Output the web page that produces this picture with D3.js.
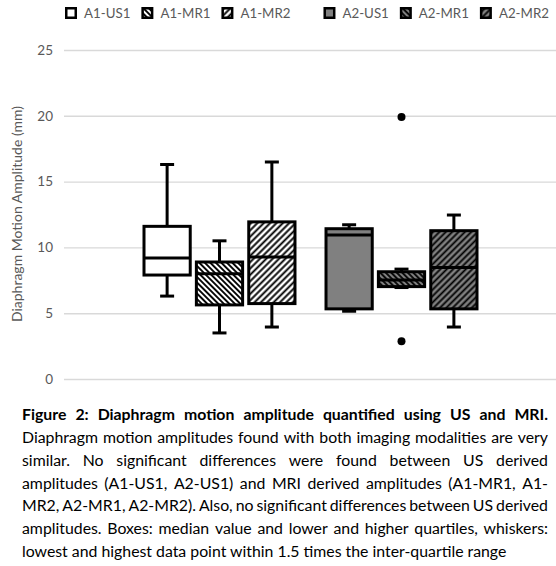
<!DOCTYPE html>
<html><head><meta charset="utf-8">
<script src="https://cdn.jsdelivr.net/npm/d3@7"></script>
<style>body{margin:0;background:#fff}svg{display:block}</style>
</head><body>
<svg id="c" width="556" height="566"></svg>
<script>
// ---------- data ----------
const series = ["A1-US1", "A1-MR1", "A1-MR2", "A2-US1", "A2-MR1", "A2-MR2"];
const groupOf = ["A1", "A1", "A1", "A2", "A2", "A2"];
const whiskerLow  = [6.3, 3.5, 3.95, 5.15, 6.95, 3.95];
const quartile1   = [7.9, 5.63, 5.73, 5.33, 7.02, 5.33];
const median      = [9.19, 8.0, 9.27, 10.94, 7.52, 8.48];
const quartile3   = [11.6, 8.89, 11.94, 11.42, 8.15, 11.27];
const whiskerHigh = [16.3, 10.5, 16.49, 11.72, 8.35, 12.46];
const outliers    = [[], [], [], [], [19.9, 2.87], []];
const yTicks = [0, 5, 10, 15, 20, 25];
const yTitle = "Diaphragm Motion Amplitude (mm)";
const captionLines = [
  "Figure 2: Diaphragm motion amplitude quantified using US and MRI.",
  "Diaphragm motion amplitudes found with both imaging modalities are very",
  "similar. No significant differences were found between US derived",
  "amplitudes (A1-US1, A2-US1) and MRI derived amplitudes (A1-MR1, A1-",
  "MR2, A2-MR1, A2-MR2). Also, no significant differences between US derived",
  "amplitudes. Boxes: median value and lower and higher quartiles, whiskers:",
  "lowest and highest data point within 1.5 times the inter-quartile range"
];

// ---------- setup ----------
const svg = d3.select("#c");
const FONT = "Lato, 'Open Sans', 'Noto Sans', sans-serif";
const GRAY_TXT = "#595959";
const plot = {left: 64, right: 557, top: 50, bottom: 379};

const defs = svg.append("defs");
function hatch(id, bg, angle, spacing, lw) {
  const p = defs.append("pattern").attr("id", id)
    .attr("patternUnits", "userSpaceOnUse")
    .attr("width", spacing).attr("height", spacing)
    .attr("patternTransform", `rotate(${angle})`);
  p.append("rect").attr("width", spacing).attr("height", spacing).attr("fill", bg);
  p.append("line").attr("x1", spacing / 2).attr("x2", spacing / 2)
    .attr("y1", -1).attr("y2", spacing + 1)
    .attr("stroke", "#000").attr("stroke-width", lw);
}
hatch("hw1", "#fff", -45, 3.9, 1.9);
hatch("hw2", "#fff", 45, 4.5, 1.9);
hatch("hg1", "#808080", -45, 3.9, 1.8);
hatch("hg2", "#808080", 45, 4.5, 1.8);
const fills = ["#fff", "url(#hw1)", "url(#hw2)", "#808080", "url(#hg1)", "url(#hg2)"];

const y = d3.scaleLinear().domain([0, 25]).range([plot.bottom, plot.top]);
const groups = Array.from(new Set(groupOf));
const xg = d3.scaleBand().domain(groups).range([142.5, 478.5]).paddingInner(0.154);
const xs = d3.scaleBand().domain([0, 1, 2]).range([0, xg.bandwidth()]).paddingInner(0.06);
const idxInGroup = series.map((s, i) => groupOf.slice(0, i).filter(g => g === groupOf[i]).length);
const bx = i => xg(groupOf[i]) + xs(idxInGroup[i]);
const bw = xs.bandwidth();

// gridlines
const yAxis = d3.axisLeft(y).tickValues(yTicks).tickSize(-(plot.right - plot.left)).tickPadding(11);
const ag = svg.append("g").attr("transform", `translate(${plot.left},0)`).call(yAxis);
ag.select(".domain").remove();
ag.selectAll(".tick line").attr("stroke", "#d9d9d9").attr("stroke-width", 1.4);
ag.selectAll(".tick text").attr("font-family", FONT).attr("font-size", 13.5)
  .attr("fill", GRAY_TXT).attr("x", 53 - plot.left);

// y title
svg.append("text").attr("transform", `translate(22,214) rotate(-90)`)
  .attr("text-anchor", "middle").attr("font-family", FONT).attr("font-size", 14)
  .attr("fill", GRAY_TXT).text(yTitle);

// boxes
const capW = 14;
const g = svg.append("g").attr("stroke", "#000").attr("stroke-width", 3);
series.forEach((s, i) => {
  const cx = bx(i) + bw / 2;
  g.append("line").attr("x1", cx).attr("x2", cx).attr("y1", y(quartile3[i])).attr("y2", y(whiskerHigh[i]));
  g.append("line").attr("x1", cx).attr("x2", cx).attr("y1", y(quartile1[i])).attr("y2", y(whiskerLow[i]));
  g.append("line").attr("x1", cx - capW / 2).attr("x2", cx + capW / 2).attr("y1", y(whiskerHigh[i])).attr("y2", y(whiskerHigh[i]));
  g.append("line").attr("x1", cx - capW / 2).attr("x2", cx + capW / 2).attr("y1", y(whiskerLow[i])).attr("y2", y(whiskerLow[i]));
  g.append("rect").attr("x", bx(i) + 1.5).attr("width", bw - 3)
    .attr("y", y(quartile3[i])).attr("height", y(quartile1[i]) - y(quartile3[i]))
    .attr("fill", fills[i]);
  g.append("line").attr("x1", bx(i) + 1.5).attr("x2", bx(i) + bw - 1.5)
    .attr("y1", y(median[i])).attr("y2", y(median[i]));
  outliers[i].forEach(v => {
    svg.append("circle").attr("cx", cx).attr("cy", y(v)).attr("r", 4).attr("fill", "#000");
  });
});

// legend
const lg = svg.append("g").attr("font-family", FONT).attr("font-size", 13.3).attr("fill", GRAY_TXT);
let lx = 65;
series.forEach((s, i) => {
  if (i > 0 && groupOf[i] !== groupOf[i - 1]) lx += 22;
  lg.append("rect").attr("x", lx + 1.25).attr("y", 8.25).attr("width", 9.5).attr("height", 9.5)
    .attr("fill", fills[i]).attr("stroke", "#000").attr("stroke-width", 2.5);
  const t = lg.append("text").attr("x", lx + 19).attr("y", 18).text(s);
  lx += 19 + t.node().getComputedTextLength() + 11;
});

// caption (justified)
const capSize = 15.5;
const cap = svg.append("g").attr("font-family", FONT).attr("font-size", capSize).attr("fill", "#000");
function measure(txt, bold) {
  const t = cap.append("text").attr("font-weight", bold ? 700 : 400).text(txt);
  const w = t.node().getComputedTextLength(); t.remove(); return w;
}
// horizontal compression so that the 2nd line (almost unstretched in the original) fits naturally
const refW = measure(captionLines[1], false);
const k = 518 / refW;
cap.attr("transform", `translate(22,0) scale(${k},1)`);
const fullW = 526 / k;
captionLines.forEach((line, i) => {
  const bold = i === 0;
  const yy = 420.5 + i * 22.7;
  const t = cap.append("text").attr("y", yy).attr("font-weight", bold ? 700 : 400);
  if (i === captionLines.length - 1) { t.attr("x", 0).text(line); return; }
  const words = line.split(" ");
  const ws = words.map(w => measure(w, bold));
  const gap = (fullW - d3.sum(ws)) / (words.length - 1);
  let x = 0;
  words.forEach((w, j) => { t.append("tspan").attr("x", x).text(w); x += ws[j] + gap; });
});
</script>
</body></html>
